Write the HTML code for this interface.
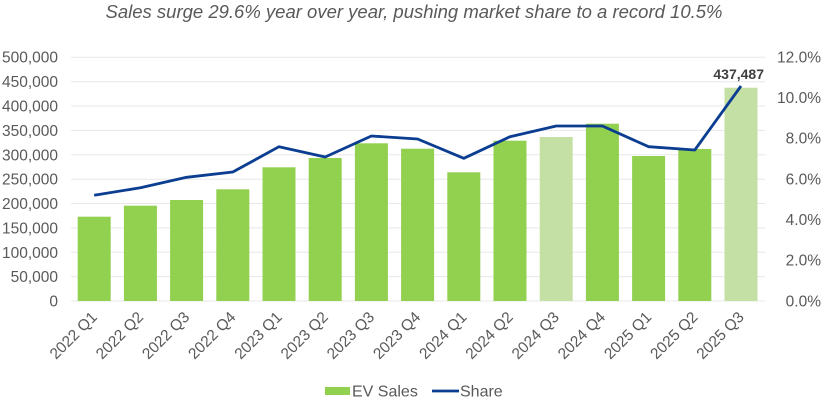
<!DOCTYPE html>
<html><head><meta charset="utf-8"><style>
body{margin:0;background:#fff;}
svg{display:block;font-family:"Liberation Sans",Arial,sans-serif;}
</style></head><body>
<svg width="824" height="403" viewBox="0 0 824 403" xmlns="http://www.w3.org/2000/svg">
<text x="414" y="18" text-anchor="middle" font-size="18.5" font-style="italic" fill="#595959">Sales surge 29.6% year over year, pushing market share to a record 10.5%</text>
<g stroke="#e8e8e8" stroke-width="1">
<line x1="71" x2="765" y1="57.3" y2="57.3"/><line x1="71" x2="765" y1="81.7" y2="81.7"/>
<line x1="71" x2="765" y1="106" y2="106"/><line x1="71" x2="765" y1="130.4" y2="130.4"/>
<line x1="71" x2="765" y1="154.8" y2="154.8"/><line x1="71" x2="765" y1="179.2" y2="179.2"/>
<line x1="71" x2="765" y1="203.5" y2="203.5"/><line x1="71" x2="765" y1="227.9" y2="227.9"/>
<line x1="71" x2="765" y1="252.3" y2="252.3"/><line x1="71" x2="765" y1="276.6" y2="276.6"/>
<line x1="71" x2="765" y1="301" y2="301"/>
</g>
<g font-size="15.5" fill="#595959" text-anchor="end">
<text x="58" y="62.5">500,000</text><text x="58" y="87">450,000</text><text x="58" y="111.5">400,000</text>
<text x="58" y="136">350,000</text><text x="58" y="160.3">300,000</text><text x="58" y="184.7">250,000</text>
<text x="58" y="209">200,000</text><text x="58" y="233.4">150,000</text><text x="58" y="257.8">100,000</text>
<text x="58" y="282.1">50,000</text><text x="58" y="306.5">0</text>
</g>
<g font-size="15.5" fill="#595959" text-anchor="end">
<text x="821" y="62.5">12.0%</text><text x="821" y="103">10.0%</text><text x="821" y="143.7">8.0%</text>
<text x="821" y="184.3">6.0%</text><text x="821" y="224.9">4.0%</text><text x="821" y="265.5">2.0%</text>
<text x="821" y="306.5">0.0%</text>
</g>
<g fill="#92d050">
<rect x="77.7" y="216.7" width="33" height="84.3"/>
<rect x="123.9" y="205.7" width="33" height="95.3"/>
<rect x="170.1" y="200" width="33" height="101"/>
<rect x="216.3" y="189.3" width="33" height="111.7"/>
<rect x="262.5" y="167.3" width="33" height="133.7"/>
<rect x="308.7" y="158" width="33" height="143"/>
<rect x="354.9" y="143.3" width="33" height="157.7"/>
<rect x="401.1" y="148.7" width="33" height="152.3"/>
<rect x="447.3" y="172.3" width="33" height="128.7"/>
<rect x="493.5" y="140.7" width="33" height="160.3"/>
<rect x="539.7" y="137" width="33" height="164" fill="#c5e0a5"/>
<rect x="585.9" y="123.7" width="33" height="177.3"/>
<rect x="632.1" y="156" width="33" height="145"/>
<rect x="678.3" y="149" width="33" height="152"/>
<rect x="724.5" y="87.7" width="33" height="213.3" fill="#c5e0a5"/>
</g>
<polyline fill="none" stroke="#0b3d91" stroke-width="2.8" stroke-linejoin="round" points="94.2,195.3 140.4,187.7 186.6,177.3 232.8,172 279,146.7 325.2,157 371.4,136 417.6,139 463.8,158.3 510,136.7 556.2,126 602.4,126 648.6,146.7 694.8,150 741,86"/>
<text x="764" y="79" text-anchor="end" font-size="14" font-weight="bold" fill="#404040">437,487</text>
<g font-size="15.5" fill="#595959" text-anchor="end">
<text transform="translate(98,318) rotate(-45)">2022 Q1</text>
<text transform="translate(144.2,318) rotate(-45)">2022 Q2</text>
<text transform="translate(190.4,318) rotate(-45)">2022 Q3</text>
<text transform="translate(236.6,318) rotate(-45)">2022 Q4</text>
<text transform="translate(282.8,318) rotate(-45)">2023 Q1</text>
<text transform="translate(329,318) rotate(-45)">2023 Q2</text>
<text transform="translate(375.2,318) rotate(-45)">2023 Q3</text>
<text transform="translate(421.4,318) rotate(-45)">2023 Q4</text>
<text transform="translate(467.6,318) rotate(-45)">2024 Q1</text>
<text transform="translate(513.8,318) rotate(-45)">2024 Q2</text>
<text transform="translate(560,318) rotate(-45)">2024 Q3</text>
<text transform="translate(606.2,318) rotate(-45)">2024 Q4</text>
<text transform="translate(652.4,318) rotate(-45)">2025 Q1</text>
<text transform="translate(698.6,318) rotate(-45)">2025 Q2</text>
<text transform="translate(744.8,318) rotate(-45)">2025 Q3</text>
</g>
<rect x="325" y="387" width="25" height="8" fill="#92d050"/>
<text x="352" y="396.5" font-size="16" fill="#595959">EV Sales</text>
<line x1="432" x2="459" y1="391" y2="391" stroke="#0b3d91" stroke-width="2.8"/>
<text x="460" y="396.5" font-size="16" fill="#595959">Share</text>
</svg>
</body></html>
